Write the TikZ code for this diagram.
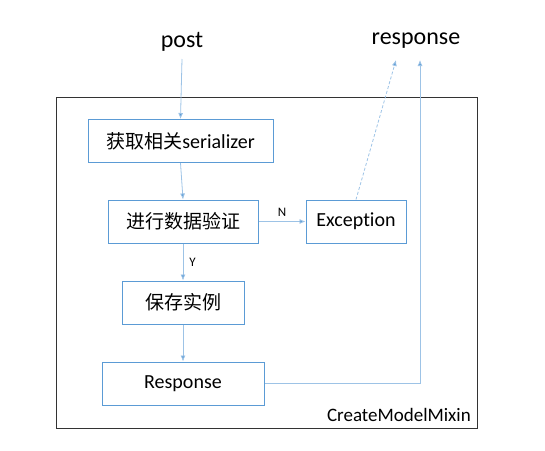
\documentclass[tikz,border=0pt]{standalone}
\usepackage{fontspec}
\setmainfont{Carlito}[Ligatures={NoCommon}]
\newfontfamily\cjk{Noto Sans CJK SC}[Scale=0.95]
\usetikzlibrary{arrows.meta}
\definecolor{boxblue}{HTML}{5B9BD5}
\definecolor{linkblue}{HTML}{9DC3E6}
\begin{document}
\begin{tikzpicture}[x=1pt,y=-1pt,
  box/.style={draw=boxblue,line width=1pt,minimum height=43pt,inner sep=0pt,font=\fontsize{20}{22}\selectfont},
  link/.style={draw=linkblue,line width=0.8pt,-{Latex[length=6pt,width=5pt,fill=boxblue]}},
  lab/.style={font=\fontsize{13}{14}\selectfont,inner sep=0pt}]
\useasboundingbox (0,0) rectangle (545,450);
\node[draw=black!80,line width=1pt,minimum width=421pt,minimum height=331pt,anchor=north west,inner sep=0pt] (frame) at (56,97) {};
\node[font=\fontsize{24}{26}\selectfont,inner sep=0pt] (post) at (182,42) {post};
\node[font=\fontsize{24}{26}\selectfont,inner sep=0pt] (resp) at (416,41) {response};
\node[box,minimum width=185pt] (ser) at (180.5,141) {\cjk 获取相关\normalfont serializer};
\node[box,minimum width=150pt] (val) at (183,221.5) {\cjk 进行数据验证};
\node[box,minimum width=100pt] (exc) at (356,221.5) {Exception};
\node[box,minimum width=122pt] (save) at (183,302.5) {\cjk 保存实例};
\node[box,minimum width=162pt] (rsp) at (183,383.5) {Response};
\coordinate (postend) at (182,59);
\coordinate (respA) at (396,60);
\coordinate (respB) at (420,60);
\coordinate (corner) at (420,383.5);
\draw[link] (postend) -- (ser.north);
\draw[link] (ser.south) -- (val.north);
\draw[link] (val.east) -- node[lab,above=5pt] {N} (exc.west);
\draw[link] (val.south) -- node[lab,right=6pt] {Y} (save.north);
\draw[link] (save.south) -- (rsp.north);
\draw[link,densely dashed] (exc.north) -- (respA);
\draw[link] (rsp.east) -- (corner) -- (respB);
\node[font=\fontsize{19}{20}\selectfont,inner sep=0pt,anchor=base east] (mixin) at (471,421) {CreateModelMixin};
\end{tikzpicture}
\end{document}
